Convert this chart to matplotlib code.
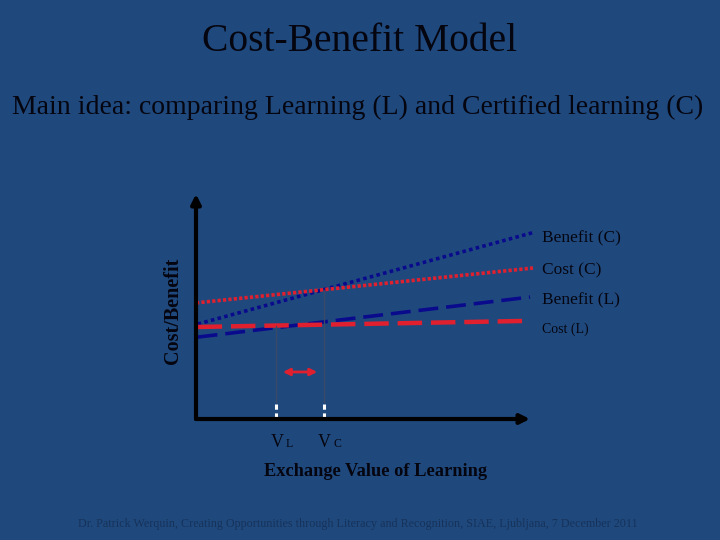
import numpy as np
import matplotlib
matplotlib.use("Agg")
import matplotlib.pyplot as plt

plt.rcParams['font.family'] = ['Liberation Serif', 'DejaVu Serif']

# model units: x from 0 (y axis) to 10 (arrow tip), y from 0 (x axis) to 10
line_names = ['Benefit (C)', 'Cost (C)', 'Benefit (L)', 'Cost (L)']
x_start = [0.05, 0.0, 0.05, 0.05]
x_end = [10.15, 10.09, 10.0, 9.91]
y_start = [4.22, 5.16, 3.64, 4.09]
y_end = [8.31, 6.71, 5.42, 4.36]
label_y = [8.13, 6.71, 5.38, 4.09]
label_sizes = [12.5, 12.5, 12.5, 10]

v_names = ['L', 'C']
v_pos = [2.40, 3.83]

bg = '#1f497d'
navy = '#0a0a8c'
red = '#e0202f'
txt = '#050510'

fig = plt.figure(figsize=(7.2, 5.4), dpi=100, facecolor=bg)
ax = fig.add_axes([196 / 720, (540 - 419) / 540, (530 - 196) / 720, (419 - 194) / 540])
ax.set_facecolor(bg)
ax.set_xlim(0, 10)
ax.set_ylim(0, 10)
ax.axis('off')

styles = [
    dict(color=navy, lw=2.6, ls=(0, (1.0, 0.9))),
    dict(color=red, lw=2.6, ls=(0, (0.9, 0.6))),
    dict(color=navy, lw=2.6, ls=(0, (5.5, 2.2))),
    dict(color=red, lw=3.2, ls=(0, (5.5, 2.0))),
]
for i, name in enumerate(line_names):
    ax.plot([x_start[i], x_end[i]], [y_start[i], y_end[i]], clip_on=False,
            solid_capstyle='butt', dash_capstyle='butt', **styles[i])
    ax.text(10.36, label_y[i] - 0.1, name, fontsize=label_sizes[i],
            color=txt, va='center', ha='left', clip_on=False)

# axes with arrows
ax.annotate('', xy=(0, 10), xytext=(0, 0),
            arrowprops=dict(arrowstyle='-|>', color='black', lw=3, mutation_scale=14,
                            shrinkA=0, shrinkB=0))
ax.annotate('', xy=(10, 0), xytext=(0, 0),
            arrowprops=dict(arrowstyle='-|>', color='black', lw=3, mutation_scale=14,
                            shrinkA=0, shrinkB=0))

# value markers
cost_c = np.interp(v_pos[1], [x_start[1], x_end[1]], [y_start[1], y_end[1]])
cost_l = np.interp(v_pos[0], [x_start[3], x_end[3]], [y_start[3], y_end[3]])
tops = [cost_l, cost_c]
for v, top, nm in zip(v_pos, tops, v_names):
    ax.plot([v, v], [0.75, top], color='#3a4a66', lw=0.9)
    ax.plot([v, v], [0.0, 0.68], color='white', lw=2.2, ls=(0, (2.0, 1.2)))
    ax.annotate('V', xy=(v, 0), xytext=(0.5, -17), textcoords='offset points',
                fontsize=13, color=txt, ha='center', va='center')
    ax.annotate(nm, xy=(v, 0), xytext=(9.5, -18), textcoords='offset points',
                fontsize=8.5, color=txt, ha='center', va='center')

ax.annotate('', xy=(v_pos[1] - 0.2, 2.09), xytext=(v_pos[0] + 0.2, 2.09),
            arrowprops=dict(arrowstyle='<|-|>', color=red, lw=2, mutation_scale=10,
                            shrinkA=0, shrinkB=0))

fig.text(173 / 720, 1 - 311 / 540, 'Cost/Benefit', rotation=90, fontsize=14.5,
         fontweight='bold', color=txt, ha='center', va='center')
fig.text(375 / 720, 1 - 472 / 540, 'Exchange Value of Learning', fontsize=13.2,
         fontweight='bold', color=txt, ha='center', va='center')

fig.text(359 / 720, 1 - 42 / 540, 'Cost-Benefit Model', fontsize=28.5,
         color=txt, ha='center', va='center')
fig.text(358 / 720, 1 - 107 / 540,
         'Main idea: comparing Learning (L) and Certified learning (C)',
         fontsize=20, color=txt, ha='center', va='center')
fig.text(358 / 720, 1 - 524 / 540,
         'Dr. Patrick Werquin, Creating Opportunities through Literacy and Recognition, SIAE, Ljubljana, 7 December 2011',
         fontsize=8.7, color='#16325a', ha='center', va='center')

fig.savefig('out.png', dpi=100, facecolor=bg)
